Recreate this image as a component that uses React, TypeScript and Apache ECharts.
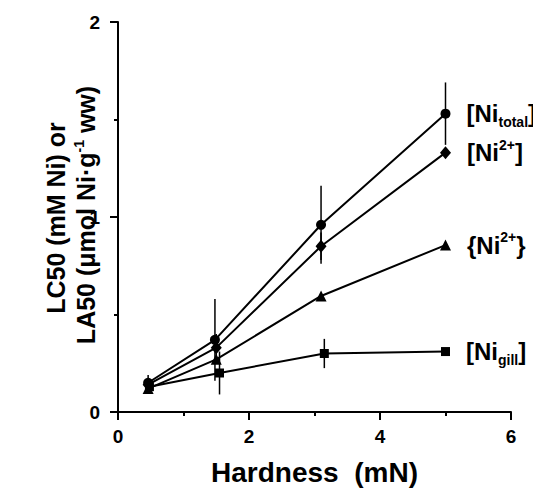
import React, { useEffect, useRef } from "react";
import * as echarts from "echarts";

// Hardness (mN) for each series
const xTotal = [0.46, 1.48, 3.1, 5.0];
const xFree = [0.46, 1.5, 3.1, 5.0];
const xActivity = [0.46, 1.5, 3.1, 5.0];
const xGill = [0.48, 1.55, 3.15, 5.0];

// LC50 / LA50 values
const yTotal = [0.15, 0.37, 0.96, 1.53];
const yFree = [0.14, 0.33, 0.85, 1.33];
const yActivity = [0.12, 0.27, 0.595, 0.856];
const yGill = [0.13, 0.2, 0.3, 0.31];

// error (+/-)
const eTotal = [0.04, 0.21, 0.2, 0.16];
const eFree = [0.03, 0.07, 0.07, 0.0];
const eActivity = [0.02, 0.0, 0.0, 0.0];
const eGill = [0.03, 0.11, 0.075, 0.0];

const xTicks = [0, 2, 4, 6];
const yTicks = [0, 1, 2];

const FONT = "'Liberation Sans', Arial, sans-serif";

const richLabel = {
  b: { fontSize: 24, fontWeight: "bold" as const, fontFamily: FONT, color: "#000", lineHeight: 30 },
  sub: { fontSize: 14, fontWeight: "bold" as const, fontFamily: FONT, color: "#000", verticalAlign: "bottom" as const, lineHeight: 14 },
  sup: { fontSize: 14, fontWeight: "bold" as const, fontFamily: FONT, color: "#000", verticalAlign: "top" as const, lineHeight: 14 },
};

const labelTexts = [
  "{b|[Ni}{sub|total}{b|]}",
  "{b|[Ni}{sup|2+}{b|]}",
  "{b|{Ni}{sup|2+}}",
  "{b|[Ni}{sub|gill}{b|]}",
];

function buildLine(xs: number[], ys: number[], symbol: string, size: any, label: string, name: string) {
  return {
    name,
    type: "line",
    symbol,
    symbolSize: size,
    itemStyle: { color: "#000" },
    lineStyle: { color: "#000", width: 2 },
    z: 3,
    data: xs.map((x, i) => {
      const item: any = { value: [x, ys[i]] };
      if (i === xs.length - 1) {
        item.label = {
          show: true,
          position: "right",
          distance: 16,
          formatter: label,
          fontSize: 24,
          fontWeight: "bold",
          fontFamily: FONT,
          color: "#000",
          lineHeight: 30,
          rich: richLabel,
        };
      }
      return item;
    }),
  };
}

function buildErr(xs: number[], ys: number[], es: number[], name: string) {
  return {
    name,
    type: "custom",
    z: 2,
    silent: true,
    renderItem: (params: any, api: any) => {
      const x = api.value(0);
      const lo = api.value(1);
      const hi = api.value(2);
      const p1 = api.coord([x, lo]);
      const p2 = api.coord([x, hi]);
      return {
        type: "line",
        shape: { x1: p1[0], y1: p1[1], x2: p2[0], y2: p2[1] },
        style: { stroke: "#000", lineWidth: 1.5 },
      };
    },
    encode: { x: 0, y: [1, 2] },
    data: xs
      .map((x, i) => [x, ys[i] - es[i], ys[i] + es[i]])
      .filter((d, i) => es[i] > 0),
  };
}

export default function App() {
  const ref = useRef<HTMLDivElement>(null);
  useEffect(() => {
    if (!ref.current) return;
    const chart = echarts.init(ref.current, undefined, { renderer: "svg" });
    const axisCommon = {
      axisLine: { show: true, onZero: false, lineStyle: { color: "#000", width: 2 } },
      axisTick: { show: true, inside: false, length: 8, lineStyle: { color: "#000", width: 2 } },
      minorTick: { show: true, splitNumber: 2, length: 4, lineStyle: { color: "#000", width: 2 } },
      splitLine: { show: false },
      minorSplitLine: { show: false },
    };
    chart.setOption({
      animation: false,
      backgroundColor: "#fff",
      grid: { left: 118, right: 30, top: 22, bottom: 84, containLabel: false, outerBoundsMode: "none" },
      xAxis: {
        type: "value",
        min: xTicks[0],
        max: xTicks[xTicks.length - 1],
        interval: 2,
        ...axisCommon,
        axisLabel: {
          margin: 15,
          fontSize: 19,
          fontWeight: "bold",
          fontFamily: FONT,
          color: "#000",
          formatter: (v: number) => (xTicks.includes(v) ? String(v) : ""),
        },
        name: "Hardness  (mN)",
        nameLocation: "middle",
        nameGap: 46,
        nameTextStyle: { fontSize: 28, fontWeight: "bold", fontFamily: FONT, color: "#000" },
      },
      yAxis: {
        type: "value",
        min: yTicks[0],
        max: yTicks[yTicks.length - 1],
        interval: 1,
        ...axisCommon,
        axisLabel: {
          margin: 18,
          fontSize: 19,
          fontWeight: "bold",
          fontFamily: FONT,
          color: "#000",
          formatter: (v: number) => (yTicks.includes(v) ? String(v) : ""),
        },
      },
      graphic: [
        {
          type: "text",
          x: 56,
          y: 218,
          rotation: Math.PI / 2,
          style: {
            text: "LC50 (mM Ni) or",
            font: `bold 25px ${FONT}`,
            fill: "#000",
            align: "center",
            verticalAlign: "middle",
            textAlign: "center",
            textVerticalAlign: "middle",
          },
        },
        {
          type: "text",
          x: 86,
          y: 215,
          rotation: Math.PI / 2,
          style: {
            text: "{t|LA50 (μmol Ni·g}{s|-1}{t| ww)}",
            fill: "#000",
            align: "center",
            verticalAlign: "middle",
            textAlign: "center",
            textVerticalAlign: "middle",
            rich: {
              t: { fontSize: 25, fontWeight: "bold", fontFamily: FONT, fill: "#000", lineHeight: 28 },
              s: { fontSize: 14, fontWeight: "bold", fontFamily: FONT, fill: "#000", verticalAlign: "top", lineHeight: 14 },
            },
          },
        },
      ],
      series: [
        buildErr(xTotal, yTotal, eTotal, "errTotal"),
        buildErr(xFree, yFree, eFree, "errFree"),
        buildErr(xActivity, yActivity, eActivity, "errAct"),
        buildErr(xGill, yGill, eGill, "errGill"),
        buildLine(xTotal, yTotal, "circle", 10, labelTexts[0], "[Ni total]"),
        buildLine(xFree, yFree, "diamond", [11, 13], labelTexts[1], "[Ni2+]"),
        buildLine(xActivity, yActivity, "triangle", 11, labelTexts[2], "{Ni2+}"),
        buildLine(xGill, yGill, "rect", 9, labelTexts[3], "[Ni gill]"),
      ],
    });
    return () => chart.dispose();
  }, []);
  return <div ref={ref} style={{ width: 541, height: 496, margin: -8 }} />;
}
